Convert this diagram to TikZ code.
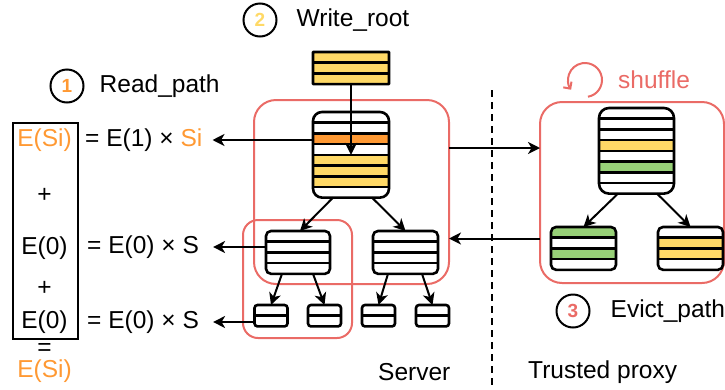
\documentclass[tikz,border=0pt]{standalone}
\usepackage{fontspec}
\setmainfont{Liberation Sans}
\usetikzlibrary{arrows.meta,positioning,calc}

\definecolor{oram}{HTML}{FF9933}
\definecolor{yelm}{HTML}{FFD966}
\definecolor{grnm}{HTML}{97D077}
\definecolor{redm}{HTML}{EA6B66}

\newcommand*{\rowh}{10.7}

% bucket of rows: name, centre x, top y, width, corner radius, row colours
\newcommand{\bucket}[6]{%
  \foreach \rowcol [count=\n] in {#6} {\xdef\nrows{\n}}
  \node[bucketshape, minimum width=#4, minimum height={\nrows*\rowh}] (#1) at (#2,#3) {};
  \begin{scope}
    \clip[rounded corners=#5] (#1.north west) rectangle (#1.south east);
    \foreach \rowcol [count=\n] in {#6}
      \fill[\rowcol] ($(#1.north west)+(0,{(\n-1)*\rowh})$) rectangle ++(#4,\rowh);
  \end{scope}
  \pgfmathtruncatemacro{\nlast}{\nrows-1}
  \foreach \n in {1,...,\nlast}
    \draw[bucketline] ($(#1.north west)+(0,{\n*\rowh})$) -- ++(#4,0);
  \draw[bucketline, rounded corners=#5] (#1.north west) rectangle (#1.south east);
}

\begin{document}
\begin{tikzpicture}
[
	x=1pt,
	y=-1pt,
	font=\fontsize{24.5}{29}\selectfont,
	bucketshape/.style={rectangle,inner sep=0pt,outer sep=0pt,anchor=north},
	bucketline/.style={line width=2.6pt},
	redbox/.style={draw=redm,line width=2pt,rounded corners=22pt,inner sep=0pt,outer sep=0pt,anchor=north west},
	arw/.style={line width=2pt,-{Stealth[length=12pt,width=12pt,inset=3.5pt]}},
	numcirc/.style={circle,draw,line width=2pt,minimum size=33pt,inner sep=0pt,font=\fontsize{19}{21}\selectfont\bfseries},
	txt/.style={inner sep=0pt}
]
	\useasboundingbox (0,0) rectangle (725,389);

	% boxes
	\node[redbox, minimum width=195pt, minimum height=184pt] (server) at (254,100) {};
	\node[redbox, rounded corners=15pt, minimum width=109pt, minimum height=118pt] (subtree) at (243,220) {};
	\node[redbox, minimum width=184pt, minimum height=181pt] (proxy) at (540,102) {};
	\node[draw, line width=2.2pt, inner sep=0pt, minimum width=65pt, minimum height=216pt, anchor=north west] (sumbox) at (12,122) {};

	% server tree
	\bucket{wstack}{351}{52}{76}{0.5}{yelm,yelm,yelm}
	\bucket{sroot}{351}{112}{76}{9}{white,white,oram,white,yelm,yelm,yelm,white}
	\bucket{smidl}{298}{231}{64}{5}{white,white,white,white}
	\bucket{smidr}{405.5}{231}{65}{5}{white,white,white,white}
	\bucket{leafa}{271}{305}{33}{3}{white,white}
	\bucket{leafb}{324.5}{305}{33}{3}{white,white}
	\bucket{leafc}{378.5}{305}{33}{3}{white,white}
	\bucket{leafd}{432.5}{305}{33}{3}{white,white}

	% proxy tree
	\bucket{proot}{636.5}{108}{75}{10}{white,white,white,yelm,white,grnm,white,white}
	\bucket{pleft}{583.5}{227}{65}{5}{grnm,white,grnm,white}
	\bucket{pright}{690.5}{227}{65}{5}{white,yelm,yelm,white}

	\draw[arw] (wstack.south) -- (sroot.center);
	\draw[arw] ([xshift=-18pt]sroot.south) -- ([xshift=2pt]smidl.north);
	\draw[arw] ([xshift=21pt]sroot.south) -- (smidr.north);
	\draw[arw] ([xshift=-16pt]smidl.south) -- (leafa.north);
	\draw[arw] ([xshift=15pt]smidl.south) -- (leafb.north);
	\draw[arw] ([xshift=-17.5pt]smidr.south) -- (leafc.north);
	\draw[arw] ([xshift=16.5pt]smidr.south) -- (leafd.north);
	\draw[arw] ([xshift=-18.5pt]proot.south) -- (pleft.north);
	\draw[arw] ([xshift=20.5pt]proot.south) -- (pright.north);

	\draw[arw] ([yshift=44pt]server.east) -- ([yshift=44pt]server.east -| proxy.west);
	\draw[arw] ([yshift=-46pt]proxy.west) -- ([yshift=-46pt]proxy.west -| server.east);

	\draw[line width=2pt, dash pattern=on 7pt off 5pt] (492,90) -- (492,389);

	% sum of read path
	\node[txt, text=oram] (esa) at (44.5,140) {E(Si)};
	\node[txt] (plusa) at (44.5,195) {+};
	\node[txt] (eza) at (44.5,248) {E(0)};
	\node[txt] (plusb) at (44.5,288) {+};
	\node[txt] (ezb) at (44.5,322) {E(0)};
	\node[txt] (eqs) at (44.5,349) {=};
	\node[txt, text=oram] (esb) at (44.5,371) {E(Si)};

	\node[txt, anchor=west] (eqa) at (85,140) {= E(1) × \textcolor{oram}{Si}};
	\node[txt, anchor=west] (eqb) at (87,247) {= E(0) × S};
	\node[txt, anchor=west] (eqc) at (87,322) {= E(0) × S};

	\draw[arw] (sroot.west |- eqa) -- ([xshift=10pt]eqa.east);
	\draw[arw] (smidl.west |- eqb) -- ([xshift=14pt]eqb.east);
	\draw[arw] (leafa.west |- eqc) -- ([xshift=14pt]eqc.east);

	% steps
	\node[numcirc, text=oram] (numa) at (67,86) {1};
	\node[txt, right=15pt of numa] (readp) {Read\_path};
	\node[numcirc, text=yelm] (numb) at (260,20) {2};
	\node[txt, right=19pt of numb] (writer) {Write\_root};
	\node[numcirc, text=redm] (numc) at (573,311) {3};
	\node[txt, right=20pt of numc] (evictp) {Evict\_path};

	\draw[draw=redm, line width=2pt, -{Straight Barb[length=5pt,width=10pt]}] (585,80) ++(80:17) arc[start angle=80, end angle=-215, radius=17];
	\node[txt, text=redm, anchor=west] (shuf) at (618,80) {shuffle};

	\node[txt, anchor=west] (serverlbl) at (378,372) {Server};
	\node[txt, anchor=west] (proxylbl) at (528,372) {Trusted proxy};

\end{tikzpicture}
\end{document}
